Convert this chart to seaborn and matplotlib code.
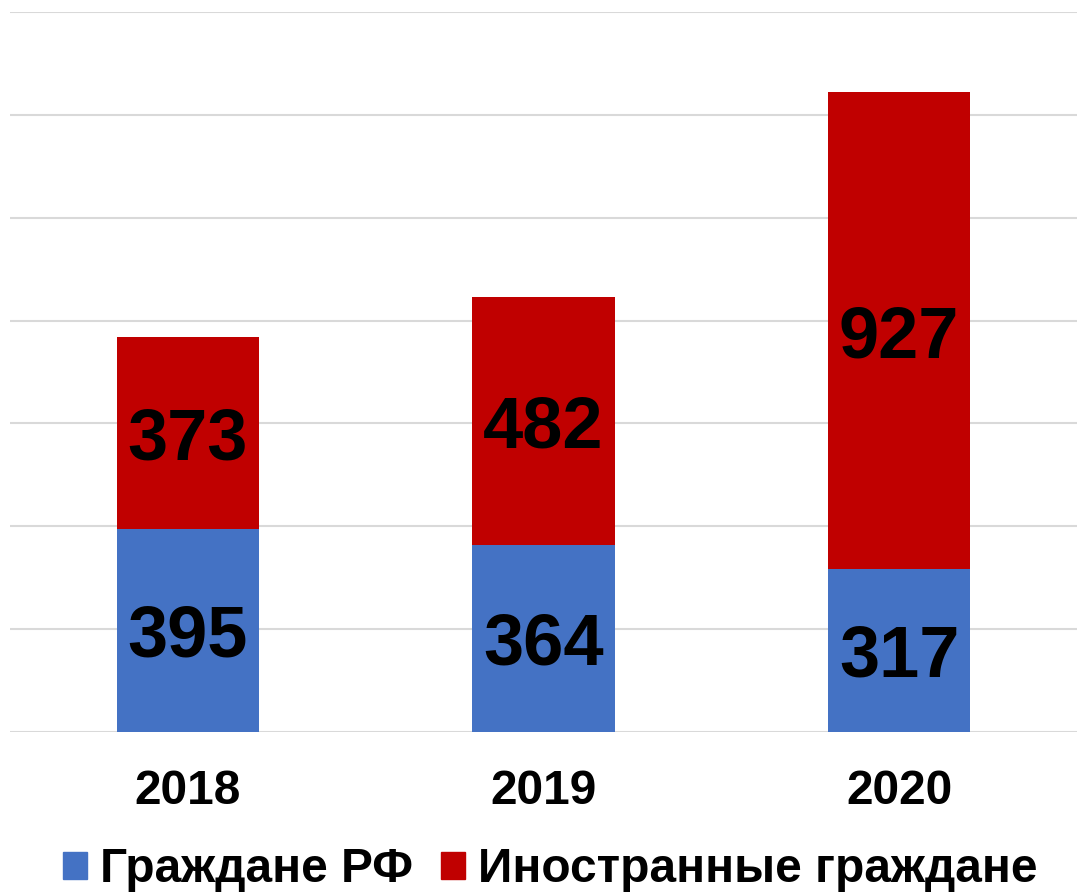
import matplotlib
matplotlib.use('Agg')
import matplotlib.pyplot as plt
import matplotlib.patches as mpatches
import seaborn as sns
import pandas as pd

years = ['2018', '2019', '2020']
citizens_rf = [395, 364, 317]
foreign = [373, 482, 927]
labels = ['Граждане РФ', 'Иностранные граждане']
colors = ['#4472c4', '#c00000']

sns.set_theme(style='white')
plt.rcParams['font.family'] = ['Liberation Sans', 'DejaVu Sans']

df = pd.DataFrame({'year': years, 'rf': citizens_rf, 'foreign': foreign})
df['total'] = df['rf'] + df['foreign']

fig = plt.figure(figsize=(10.77, 8.92), dpi=100)
ax = fig.add_axes([10 / 1077, 0.1794, 1 - 10 / 1077, 0.8072])

# red total under, blue on top -> stacked look
sns.barplot(data=df, x='year', y='total', color=colors[1], width=0.4,
            saturation=1, linewidth=0, ax=ax, zorder=3)
sns.barplot(data=df, x='year', y='rf', color=colors[0], width=0.4,
            saturation=1, linewidth=0, ax=ax, zorder=3)

for i, (a, b) in enumerate(zip(citizens_rf, foreign)):
    ax.text(i, a / 2, str(a), ha='center', va='center_baseline', fontsize=52,
            fontweight='bold', color='black', zorder=4)
    ax.text(i, a + b / 2, str(b), ha='center', va='center_baseline', fontsize=52,
            fontweight='bold', color='black', zorder=4)

ax.set_ylim(0, 1400)
ax.set_xlim(-0.5, 2.5)
ax.set_yticks(range(0, 1401, 200))
ax.set_yticklabels([])
ax.yaxis.grid(True, color='#d9d9d9', linewidth=1.5, zorder=0)
ax.tick_params(axis='y', length=0)
ax.tick_params(axis='x', length=0, pad=27, labelsize=34.5, labelcolor='black')
for t in ax.get_xticklabels():
    t.set_fontweight('bold')
ax.set_xlabel('')
ax.set_ylabel('')
for s in ax.spines.values():
    s.set_visible(False)

handles = [mpatches.Patch(color=c, label=l) for c, l in zip(colors, labels)]
leg = fig.legend(handles=handles, loc='center', bbox_to_anchor=(0.511, 0.025), ncol=2,
                 frameon=False, prop={'size': 34.5, 'weight': 'bold'},
                 handlelength=0.5, handleheight=0.5, handletextpad=0.27,
                 columnspacing=0.6)
for t in leg.get_texts():
    t.set_color('black')

fig.savefig('out.png', dpi=100)
